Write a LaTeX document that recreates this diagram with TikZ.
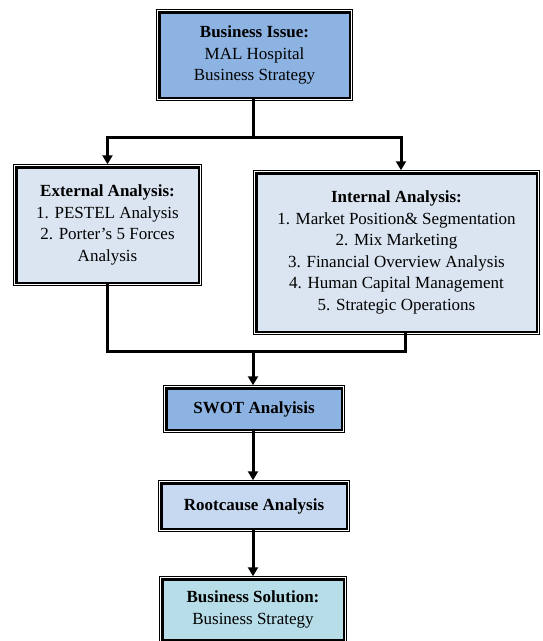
\documentclass[tikz,border=0pt]{standalone}
\usepackage{fontspec}
\setmainfont{Liberation Serif}
\usetikzlibrary{arrows.meta}
\definecolor{cblue}{HTML}{8DB3E2}
\definecolor{cpale}{HTML}{DBE5F1}
\definecolor{croot}{HTML}{C6D9F1}
\definecolor{cteal}{HTML}{B7DDE8}
\tikzset{
  box/.style={rectangle, inner sep=0pt, outer sep=0pt, align=center,
    font=\fontsize{17}{21.5}\selectfont,
    preaction={draw=black, line width=6.5pt},
    preaction={draw=white, line width=4.5pt},
    draw=black, line width=2.5pt},
  conn/.style={line width=3pt, draw=black},
  arr/.style={conn, -{Triangle[width=10pt,length=9pt]}, shorten >=3pt},
}
\begin{document}
\begin{tikzpicture}[x=1pt,y=-1pt]
\useasboundingbox (0,0) rectangle (542,641);
\node[box, fill=cblue, minimum width=190.5pt, minimum height=85.5pt] (top) at (254.5,55)
  {\textbf{Business Issue:}\\MAL Hospital\\Business Strategy};
\node[box, fill=cpale, minimum width=182.5pt, minimum height=115.5pt] (ext) at (107.5,225)
  {\textbf{External Analysis:}\\1. PESTEL Analysis\\2. Porter’s 5 Forces\\Analysis};
\node[box, fill=cpale, minimum width=280.5pt, minimum height=158.5pt] (int) at (396.5,252.5)
  {\textbf{Internal Analysis:}\\1. Market Position\& Segmentation\\2. Mix Marketing\\3. Financial Overview Analysis\\4. Human Capital Management\\5. Strategic Operations};
\node[box, fill=cblue, minimum width=175.5pt, minimum height=41.5pt] (swot) at (254,409)
  {\textbf{SWOT Analyisis}};
\node[box, fill=croot, minimum width=185.5pt, minimum height=45.5pt] (root) at (254,506)
  {\textbf{Rootcause Analysis}};
\node[box, fill=cteal, minimum width=181.5pt, minimum height=60.5pt] (sol) at (253,609.5)
  {\textbf{Business Solution:}\\Business Strategy};
\coordinate (j1) at (253,137);
\coordinate (j2) at (253,351);
\draw[conn] (top.south -| j1) -- (j1);
\draw[arr] (j1) -| (ext.north);
\draw[arr] (j1) -| ([xshift=4.5pt]int.north);
\draw[conn] (ext.south) |- (j2);
\draw[conn] ([xshift=8.5pt]int.south) |- (j2);
\draw[arr] (j2) -- (j2 |- swot.north);
\draw[arr] (swot.south -| j2) -- (j2 |- root.north);
\draw[arr] (root.south -| j2) -- (j2 |- sol.north);
\end{tikzpicture}
\end{document}
